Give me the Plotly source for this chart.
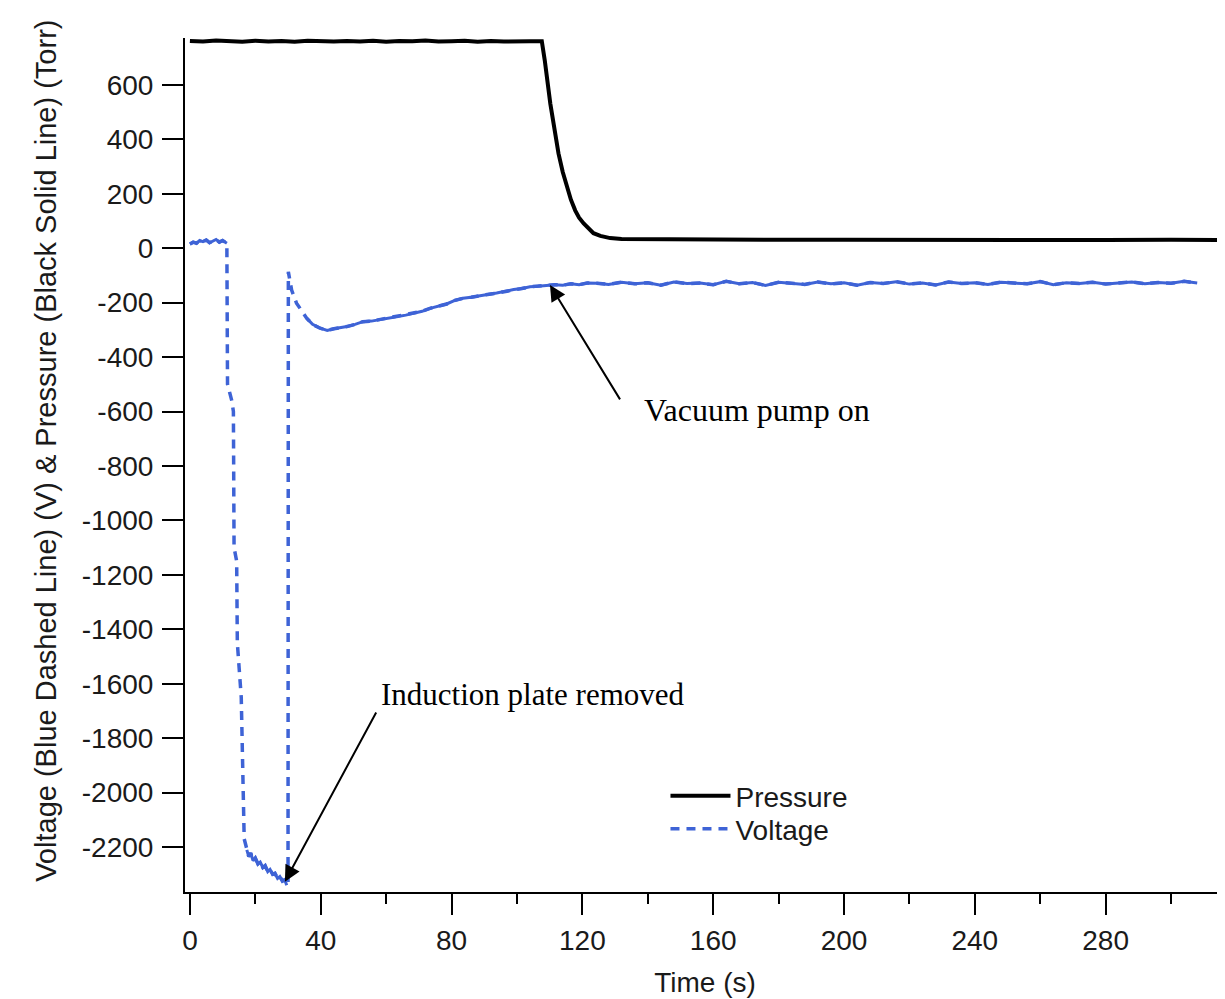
import plotly.graph_objects as go

# ---------------- data ----------------
p_time = [0, 4, 8, 12, 16, 20, 24, 28, 32, 36, 40, 44, 48, 52, 56, 60, 64, 68, 72, 76,
          80, 84, 88, 92, 96, 100, 104, 107.6, 108.5, 110.2, 111.5, 112.7, 114, 115.3,
          116.5, 117.8, 119, 120.4, 122, 123.4, 125.5, 128.5, 132, 140, 150, 160, 180,
          200, 220, 240, 260, 280, 300, 316]
p_values = [761, 759, 763, 760, 758, 762, 759, 761, 758, 762, 760, 759, 761, 759, 762, 758,
            761, 760, 763, 759, 760, 762, 758, 761, 759, 761, 760, 760, 690, 531, 440, 348,
            280, 225, 178, 139, 112, 91, 70, 55, 45, 37, 34, 33, 34, 32, 31, 31, 30, 31, 30,
            30, 31, 30]

v_time = [0, 1, 2, 3, 4, 5, 6, 7, 8, 9, 10, 11.3,
          11.5, 12.8, 13.3, 13.5, 14.3, 14.5, 15.1, 15.7, 16.6,
          17.4, 18, 18.6, 19.3, 20, 20.8, 21.5, 22.3, 23, 23.8, 24.5, 25.3, 26, 26.8, 27.5,
          28.3, 29, 29.6,
          30.0, 30.1, 31.1, 32.6,
          35.7, 37.5, 39.8, 42, 44, 45.9, 48, 50.5, 52.9, 55.5, 58, 60.5, 63.2, 66, 68.5,
          71, 73.4, 76, 78.5, 81, 83.5, 86, 88.5, 91, 93.8, 96.5, 99, 101.5, 104, 106.5,
          109, 111.5, 114, 116.5, 119, 121.5, 124.4, 128, 132, 136, 140, 144, 148, 152,
          156, 160, 164, 168, 172, 176, 180, 184, 188, 192, 196, 200, 204, 208, 212, 216,
          220, 224, 228, 232, 236, 240, 244, 248, 252, 256, 260, 264, 268, 272, 276, 280,
          284, 288, 292, 296, 300, 304, 308, 312, 316]
v_values = [15, 22, 18, 28, 24, 30, 20, 26, 32, 22, 28, 18,
            -500, -560, -600, -1100, -1150, -1450, -1560, -1650, -2170,
            -2210, -2235, -2222, -2250, -2240, -2262, -2255, -2275, -2268, -2290, -2282,
            -2300, -2296, -2315, -2308, -2325, -2320, -2340,
            -2330, -87, -154, -202,
            -257, -280, -294, -302, -296, -293, -288, -280, -270, -268, -262, -258, -252,
            -246, -240, -232, -221, -214, -205, -192, -184, -180, -174, -170, -165, -158,
            -152, -148, -142, -140, -138, -134, -136, -131, -134, -128, -129, -133, -125,
            -131, -127, -136, -124, -130, -128, -134, -122, -131, -126, -137, -125, -129,
            -133, -124, -131, -127, -136, -126, -130, -123, -132, -128, -135, -124, -130,
            -127, -133, -125, -129, -131, -123, -134, -127, -130, -125, -132, -128, -124,
            -131, -126, -129, -122, -128]

x_tick_vals = [0, 40, 80, 120, 160, 200, 240, 280]
y_tick_vals = [600, 400, 200, 0, -200, -400, -600, -800, -1000, -1200, -1400, -1600,
               -1800, -2000, -2200]
y_tick_labels = ["600", "400", "200", "0", "-200", "-400", "-600", "-800", "-1000",
                 "-1200", "-1400", "-1600", "-1800", "-2000", "-2200"]

# ---------------- figure ----------------
SANS = "Liberation Sans, Arial, sans-serif"
SERIF = "Liberation Serif, Times New Roman, serif"
BLUE = "#3e63d6"
TXT = "#1a1a1a"

# the page body adds an 8px offset; the figure is sized to fill the rest of the window
W, H = 1217, 991

# parts of the voltage record that vary slowly look continuous in the original
solid_x, solid_y = [], []
for t, v in zip(v_time, v_values):
    if t <= 11.3 or 17.4 <= t <= 29.6 or t >= 35.7:
        solid_x.append(t)
        solid_y.append(v)
    else:
        if solid_x and solid_x[-1] is not None:
            solid_x.append(None)
            solid_y.append(None)

fig = go.Figure()
fig.add_trace(go.Scatter(x=p_time, y=p_values, mode="lines", name="Pressure",
                         legend="legend",
                         line=dict(color="black", width=4)))
fig.add_trace(go.Scatter(x=v_time, y=v_values, mode="lines", name="Voltage",
                         legend="legend2",
                         line=dict(color=BLUE, width=3.5, dash="9px,7px")))
fig.add_trace(go.Scatter(x=solid_x, y=solid_y, mode="lines", showlegend=False,
                         connectgaps=False, hoverinfo="skip",
                         line=dict(color=BLUE, width=3)))

legend_common = dict(xanchor="left", yanchor="middle", bgcolor="rgba(0,0,0,0)",
                     itemwidth=60, font=dict(family=SANS, size=28, color=TXT))
fig.update_layout(
    width=W, height=H,
    margin=dict(l=177, r=0, t=30, b=107),
    paper_bgcolor="white", plot_bgcolor="white",
    font=dict(family=SANS, size=28, color=TXT),
    showlegend=True,
    legend=dict(x=0.462, y=(892 - 796) / 854, **legend_common),
    legend2=dict(x=0.462, y=(892 - 829) / 854, **legend_common),
)
fig.update_xaxes(
    range=[-1.5, 316.5], tickvals=x_tick_vals,
    ticks="outside", ticklen=21, tickwidth=2, tickcolor="black",
    showline=True, linewidth=2, linecolor="black",
    showgrid=False, zeroline=False,
    minor=dict(dtick=20, tick0=0, ticks="outside", ticklen=10, tickwidth=2,
               tickcolor="black", showgrid=False),
    tickfont=dict(family=SANS, size=28, color=TXT),
    ticklabelstandoff=1,
    title=dict(text="Time (s)", font=dict(family=SANS, size=28, color=TXT), standoff=18),
)
fig.update_yaxes(
    range=[-2365, 772], tickvals=y_tick_vals, ticktext=y_tick_labels,
    ticks="outside", ticklen=21, tickwidth=2, tickcolor="black",
    showline=True, linewidth=2, linecolor="black",
    showgrid=False, zeroline=False,
    tickfont=dict(family=SANS, size=28, color=TXT),
    ticklabelstandoff=3,
)

# y-axis title (placed as rotated text, like the original)
fig.add_annotation(xref="paper", yref="paper", x=-0.151, y=0.5165,
                   text="Voltage (Blue Dashed Line) (V) & Pressure (Black Solid Line) (Torr)",
                   textangle=-90, showarrow=False,
                   font=dict(family=SANS, size=29, color=TXT))

# callouts
fig.add_annotation(x=173.4, y=-594, text="Vacuum pump on", showarrow=False,
                   font=dict(family=SERIF, size=32, color="black"))
fig.add_annotation(x=104.9, y=-1641, text="Induction plate removed", showarrow=False,
                   font=dict(family=SERIF, size=31, color="black"))
fig.add_annotation(x=110.1, y=-135, ax=131.8, ay=-561, axref="x", ayref="y",
                   text="", showarrow=True, arrowhead=2, arrowsize=1.6,
                   arrowwidth=2, arrowcolor="black", standoff=0)
fig.add_annotation(x=29.05, y=-2327, ax=57.2, ay=-1700, axref="x", ayref="y",
                   text="", showarrow=True, arrowhead=2, arrowsize=1.6,
                   arrowwidth=2, arrowcolor="black", standoff=0)

fig.write_html("out.html")
